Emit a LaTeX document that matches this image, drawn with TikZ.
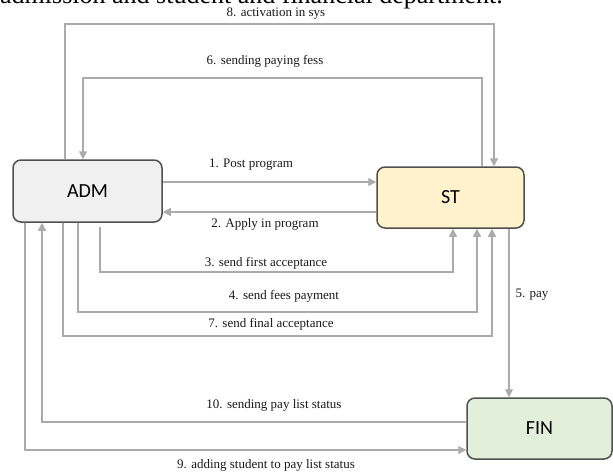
\documentclass[tikz,border=0pt]{standalone}
\usepackage{fontspec}
\setmainfont{Liberation Serif}
\newfontfamily\boxfont{Carlito}
\usetikzlibrary{arrows.meta}
\definecolor{admfill}{HTML}{F0F0F0}
\definecolor{stfill}{HTML}{FFF2CC}
\definecolor{finfill}{HTML}{E2EFDA}
\definecolor{boxline}{HTML}{505050}
\definecolor{conncol}{HTML}{ABABAB}
\begin{document}
\begin{tikzpicture}[x=1pt,y=-1pt,
  box/.style={draw=boxline, line width=1.5pt, rounded corners=8pt, inner sep=0pt,
    font=\boxfont\fontsize{20}{24}\selectfont},
  conn/.style={draw=conncol, line width=1.1pt},
  arr/.style={conn, -{Triangle[length=8pt,width=8pt]}},
  lbl/.style={font=\fontsize{13}{15}\selectfont, inner sep=1pt, text=black!90}]
\useasboundingbox (0,0) rectangle (613,474);
\begin{scope}
  \clip (0,0) rectangle (613,474);
  \node[anchor=base west, inner sep=0pt, font=\fontsize{26}{30}\selectfont] (cap) at (0,3) {admission and student and financial department.};
\end{scope}
% boxes
\node[box, fill=admfill, minimum width=149pt, minimum height=62pt] (adm) at (87.5,191) {ADM};
\node[box, fill=stfill, minimum width=147pt, minimum height=61pt] (st) at (450.5,197.5) {ST};
\node[box, fill=finfill, minimum width=145pt, minimum height=61pt] (fin) at (539.5,428.5) {FIN};
\coordinate (s3) at (100,227);
% connectors
\draw[arr] (adm.east |- 0,182) -- (st.west |- 0,182);
\draw[arr] (st.west |- 0,212) -- (adm.east |- 0,212);
\draw[arr] (s3) |- (453,272) -- (st.south -| 453,0);
\draw[arr] (adm.south -| 78,0) |- (477,312) -- (st.south -| 477,0);
\draw[arr] (adm.south -| 63,0) |- (492,336) -- (st.south -| 492,0);
\draw[arr] (st.south -| 509,0) -- (fin.north -| 509,0);
\draw[arr] (st.north -| 482,0) |- (83,78) -- (adm.north -| 83,0);
\draw[arr] (adm.north -| 65,0) |- (494,24) -- (st.north -| 494,0);
\draw[arr] (fin.west |- 0,422) -| (adm.south -| 42,0);
\draw[arr] (adm.south -| 25,0) |- (fin.west |- 0,450);
% labels
\node[lbl] (l8) at (276,14) {8. activation in sys};
\node[lbl] (l6) at (265,61) {6. sending paying fess};
\node[lbl] (l1) at (251,165) {1. Post program};
\node[lbl] (l2) at (265,224) {2. Apply in program};
\node[lbl] (l3) at (266,263) {3. send first acceptance};
\node[lbl] (l4) at (284,296) {4. send fees payment};
\node[lbl] (l7) at (271,324) {7. send final acceptance};
\node[lbl] (l5) at (532,295) {5. pay};
\node[lbl] (l10) at (274,405) {10. sending pay list status};
\node[lbl] (l9) at (266,465) {9. adding student to pay list status};
\end{tikzpicture}
\end{document}
